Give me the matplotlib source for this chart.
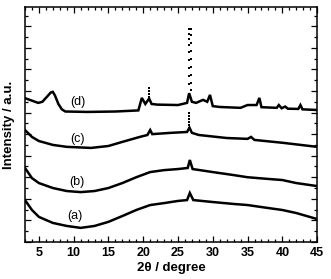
import numpy as np
import matplotlib
matplotlib.use("Agg")
import matplotlib.pyplot as plt
from matplotlib.ticker import MultipleLocator

plt.rcParams['font.family'] = ['Liberation Sans', 'DejaVu Sans']

# XRD patterns (2theta in degree, intensity offset in a.u.)
x_a = [3, 4, 5, 7, 9, 11, 13, 15, 17, 19, 21, 23, 25, 26.3, 26.7, 27.2, 30, 33, 35, 38, 40, 42, 45]
y_a = [1.94, 1.48, 1.16, 0.88, 0.74, 0.65, 0.74, 0.93, 1.2, 1.48, 1.71, 1.8, 1.9, 1.94, 2.27, 1.94,
       1.85, 1.76, 1.71, 1.57, 1.48, 1.34, 1.06]

x_b = [3, 4, 5, 7, 9, 11, 13, 15, 17, 19, 21, 23, 25, 26.4, 26.7, 27.1, 30, 33, 35, 38, 40, 42, 45]
y_b = [3.43, 2.96, 2.73, 2.5, 2.36, 2.31, 2.36, 2.5, 2.73, 3.0, 3.24, 3.33, 3.38, 3.43, 3.8, 3.38,
       3.24, 3.1, 3.0, 2.92, 2.87, 2.73, 2.59]

x_c = [3, 4, 5, 7, 9, 12.5, 15, 17, 19.5, 20.6, 21.0, 21.3, 24, 26.3, 26.65, 27, 28, 32, 35, 35.5,
       36, 40, 45]
y_c = [5.19, 4.87, 4.68, 4.5, 4.41, 4.36, 4.45, 4.64, 4.87, 4.96, 5.19, 5.0, 5.06, 5.1, 5.3, 5.06,
       4.96, 4.82, 4.78, 4.87, 4.73, 4.6, 4.41]
c_peak_x = [26.65, 26.65, 26.65, 26.65, 26.65, 26.65]
c_peak_y = [5.97, 5.83, 5.69, 5.55, 5.42, 5.28]

x_d = [3, 4.9, 5.5, 6.2, 6.7, 7.0, 7.3, 7.8, 8.3, 8.8, 12, 16, 19.3, 19.8, 20.3, 20.85, 21.2, 22,
       25, 26.3, 26.6, 27.0, 27.6, 28.6, 29.2, 29.6, 30.0, 31, 34, 34.6, 35.0, 36.3, 36.7, 37.0,
       39.2, 39.5, 39.9, 40.4, 40.8, 42.3, 42.6, 42.9, 45]
y_d = [6.67, 6.45, 6.5, 6.75, 6.93, 6.96, 6.8, 6.4, 6.15, 6.05, 6.03, 6.05, 6.1, 6.68, 6.4, 6.65,
       6.4, 6.37, 6.35, 6.45, 6.9, 6.5, 6.45, 6.59, 6.5, 6.82, 6.3, 6.26, 6.22, 6.3, 6.35, 6.35,
       6.68, 6.25, 6.22, 6.35, 6.2, 6.28, 6.18, 6.17, 6.35, 6.15, 6.12]
d_peak_x = [26.55, 26.55, 26.55, 26.55, 26.55, 26.55, 26.55, 26.55, 26.55,
            26.85, 26.85, 26.85, 26.85, 26.85, 26.85, 26.85, 26.85, 26.85,
            20.85, 20.85, 20.85, 20.85, 20.85]
d_peak_y = [9.88, 9.65, 9.42, 9.14, 8.8, 8.43, 8.06, 7.69, 7.32,
            9.88, 9.6, 9.22, 8.85, 8.47, 8.1, 7.73, 7.36, 7.04,
            7.13, 6.99, 6.85, 6.71, 6.57]

labels = ["(a)", "(b)", "(c)", "(d)"]
label_x = [10.2, 10.5, 10.6, 10.6]
label_y = [1.2, 2.78, 4.77, 6.48]

fig = plt.figure(figsize=(3.31, 2.79), dpi=100)
ax = fig.add_axes([0.0755, 0.133, 0.8825, 0.842])

for xs, ys in [(x_a, y_a), (x_b, y_b), (x_c, y_c), (x_d, y_d)]:
    ax.plot(xs, ys, color="black", lw=1.8, solid_joinstyle="miter")
ax.plot(c_peak_x, c_peak_y, "s", color="black", ms=1.5, mew=0)
ax.plot(d_peak_x, d_peak_y, "s", color="black", ms=1.7, mew=0)

for t, tx, ty in zip(labels, label_x, label_y):
    ax.text(tx, ty, t, fontsize=9, ha="center", va="center")

ax.set_xlim(3, 45)
ax.set_ylim(0, 10.9)
ax.xaxis.set_major_locator(MultipleLocator(5))
ax.xaxis.set_minor_locator(MultipleLocator(1))
ax.yaxis.set_major_locator(MultipleLocator(1))
ax.yaxis.set_minor_locator(MultipleLocator(0.5))
ax.tick_params(which="both", direction="in", top=True, right=True, width=0.9)
ax.tick_params(which="major", length=4)
ax.tick_params(which="minor", length=2)
ax.set_yticklabels([])
for lab in ax.get_xticklabels():
    lab.set_fontweight("bold")
    lab.set_fontsize(9)
for s in ax.spines.values():
    s.set_linewidth(1.1)

ax.set_xlabel("2θ / degree", fontsize=9.5, fontweight="bold", labelpad=2)
ax.set_ylabel("Intensity / a.u.", fontsize=9.5, fontweight="bold", labelpad=4)

fig.savefig("out.png", dpi=100)
